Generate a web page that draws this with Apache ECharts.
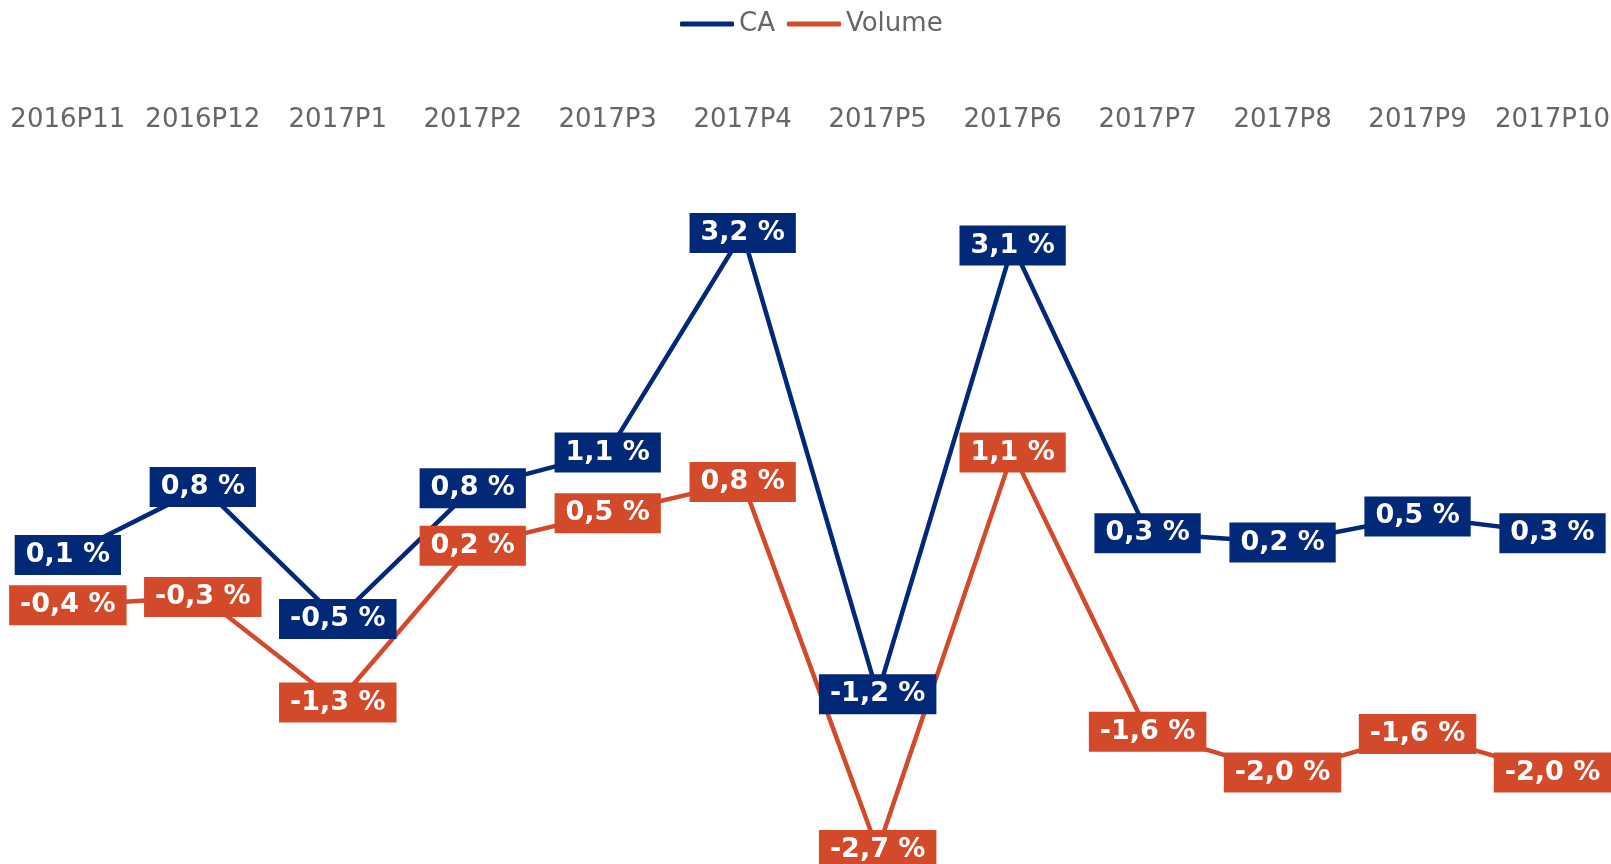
<!DOCTYPE html>
<html>
<head>
<meta charset="utf-8">
<style>
  html, body { margin: 0; padding: 0; background: #fff; overflow: hidden; }
  #chart { width: 1620px; height: 864px; }
</style>
<script src="https://cdn.jsdelivr.net/npm/echarts@6/dist/echarts.min.js"></script>
</head>
<body>
<div id="chart"></div>
<script>
var periods = ['2016P11', '2016P12', '2017P1', '2017P2', '2017P3', '2017P4', '2017P5', '2017P6', '2017P7', '2017P8', '2017P9', '2017P10']
var caData = [0.12, 0.77, -0.49, 0.76, 1.1, 3.2, -1.21, 3.08, 0.33, 0.24, 0.49, 0.33]
var volumeData = [-0.36, -0.28, -1.29, 0.21, 0.52, 0.82, -2.7, 1.1, -1.57, -1.96, -1.59, -1.96]

var navy = '#022878'
var orange = '#D24A2A'

function pct(p) {
  return p.value.toFixed(1).replace('.', ',') + ' %'
}

function lineSeries(name, data, color) {
  return {
    name: name,
    type: 'line',
    data: data,
    symbol: 'circle',
    symbolSize: 1,
    itemStyle: { color: color },
    lineStyle: { color: color, width: 4.5 },
    label: {
      show: true,
      position: 'inside',
      formatter: pct,
      color: '#fff',
      fontFamily: 'DejaVu Sans',
      fontWeight: 'bold',
      fontSize: 27,
      lineHeight: 30,
      backgroundColor: color,
      padding: [5, 11, 5, 11]
    }
  }
}

var chart = echarts.init(document.getElementById('chart'))
chart.setOption({
  animation: false,
  legend: {
    top: 6,
    left: 675,
    itemWidth: 54,
    itemHeight: 5,
    itemGap: 12,
    icon: 'roundRect',
    textStyle: { color: '#666', fontSize: 26, fontFamily: 'DejaVu Sans' },
    data: ['CA', 'Volume']
  },
  grid: {
    left: 0.35,
    right: 0,
    top: 233,
    height: 617
  },
  xAxis: {
    type: 'category',
    position: 'top',
    data: periods,
    boundaryGap: true,
    axisLine: { show: false },
    axisTick: { show: false },
    splitLine: { show: false },
    axisLabel: {
      interval: 0,
      margin: 100,
      color: '#666',
      fontSize: 26,
      fontFamily: 'DejaVu Sans'
    }
  },
  yAxis: {
    type: 'value',
    min: -2.7,
    max: 3.2,
    show: false
  },
  series: [
    lineSeries('CA', caData, navy),
    lineSeries('Volume', volumeData, orange)
  ]
})
</script>
</body>
</html>
